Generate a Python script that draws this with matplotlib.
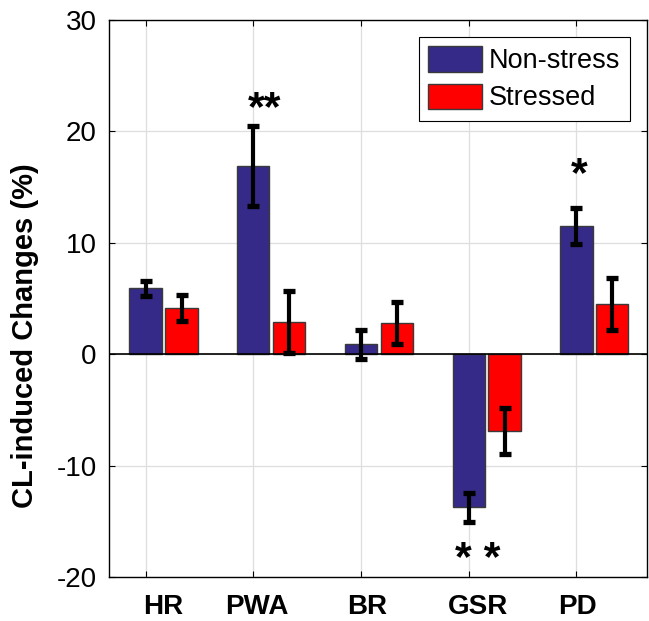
# CL-induced changes, non-stress vs stressed, grouped bar chart with error bars

import numpy as np
import matplotlib
matplotlib.use("Agg")
import matplotlib.pyplot as plt
from matplotlib.transforms import blended_transform_factory

# datos
categorias = ["HR", "PWA", "BR", "GSR", "PD"]
non_stress = [5.9, 16.9, 0.9, -13.75, 11.5]
non_stress_err = [0.7, 3.6, 1.3, 1.3, 1.6]
stressed = [4.15, 2.9, 2.8, -6.9, 4.5]
stressed_err = [1.2, 2.75, 1.9, 2.05, 2.3]
series = ["Non-stress", "Stressed"]
marcas = ["**", "*", "* *"]          # significancia
marcas_cat = ["PWA", "PD", "GSR"]

plt.rcParams['font.family'] = ['Liberation Sans', 'DejaVu Sans']
plt.rcParams['axes.unicode_minus'] = False

def bar_plot():
    fig = plt.figure(figsize=(6.49, 6.21), dpi=100)
    ax = fig.add_axes([0.168, 0.0709, 0.8289, 0.8969])

    x = np.arange(1, len(categorias) + 1)
    ancho = 0.30
    sep = 0.334

    ax.bar(x, non_stress, ancho, color='#352a87', edgecolor='#3a3a3a',
           linewidth=1, label=series[0], zorder=2)
    ax.bar(x + sep, stressed, ancho, color='#ff0000', edgecolor='#3a3a3a',
           linewidth=1, label=series[1], zorder=2)
    ax.errorbar(x, non_stress, yerr=non_stress_err, fmt='none', ecolor='black',
                elinewidth=3, capsize=4.4, capthick=3.8, zorder=3)
    ax.errorbar(x + sep, stressed, yerr=stressed_err, fmt='none', ecolor='black',
                elinewidth=3, capsize=4.4, capthick=3.8, zorder=3)
    ax.axhline(0, color='black', linewidth=1.2, zorder=2.5)

    ax.set_xlim(0.66, 5.656)
    ax.set_ylim(-20, 30)
    ax.set_yticks(np.arange(-20, 31, 10))
    ax.set_xticks(x)
    ax.set_xticklabels([])
    ax.tick_params(axis='both', direction='in', length=4, width=0.8,
                   top=True, right=True, labelsize=20, pad=9)
    ax.grid(True, color='#dedede', linewidth=0.9, zorder=0)
    ax.set_axisbelow(True)
    for s in ax.spines.values():
        s.set_linewidth(1.0)

    # etiquetas de categoria (posicion a mano como en el original)
    trans = blended_transform_factory(ax.transData, ax.transAxes)
    pos_etiq = [1.16, 2.03, 3.06, 4.09, 5.01]
    for p, c in zip(pos_etiq, categorias):
        ax.text(p, -0.0664, c, transform=trans, ha='center', va='baseline',
                fontsize=20, fontweight='bold')

    ax.set_ylabel("CL-induced Changes (%)", fontsize=21, fontweight='bold')
    ax.yaxis.set_label_coords(-0.13, 0.434)

    # asteriscos
    pos_marcas = [(2.109, 21.0), (5.03, 15.1), (4.086, -19.5)]
    for (px, py), m in zip(pos_marcas, marcas):
        ax.text(px, py, m, ha='center', va='baseline', fontsize=31,
                fontweight='bold')

    leg = ax.legend(loc='upper right', bbox_to_anchor=(0.968, 0.9695),
                    borderaxespad=0, fontsize=19.5, fancybox=False,
                    edgecolor='black', framealpha=1, handlelength=2.0,
                    handleheight=1.06, handletextpad=0.25, labelspacing=0.34,
                    borderpad=0.35)
    leg.get_frame().set_linewidth(0.8)

    fig.savefig("out.png", dpi=100)

if __name__ == '__main__':
    bar_plot()
